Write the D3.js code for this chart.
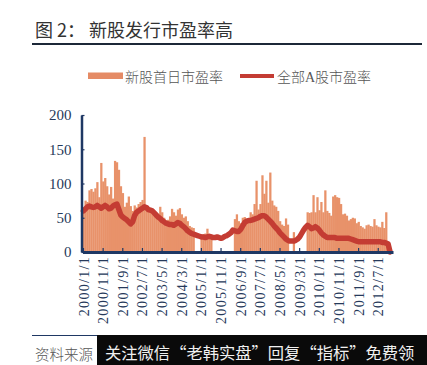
<!DOCTYPE html>
<html>
<head>
<meta charset="utf-8">
<script src="https://cdn.jsdelivr.net/npm/d3@7"></script>
<style>
  html, body { margin: 0; padding: 0; background: #fff; }
  svg { display: block; }
</style>
</head>
<body>
<svg id="chart" width="427" height="365"></svg>
<script>
// ---------- data ----------
const titleLead = "图 2：";
const titleText = "新股发行市盈率高";
const seriesNames = ["新股首日市盈率", "全部A股市盈率"];
const tickLabels = ["2000/1/1","2000/11/1","2001/9/1","2002/7/1","2003/5/1","2004/3/1","2005/1/1","2005/11/1","2006/9/1","2007/7/1","2008/5/1","2009/3/1","2010/1/1","2010/11/1","2011/9/1","2012/7/1"];
const yTicks = [0, 50, 100, 150, 200];

// monthly categories 2000/1 .. 2013/2
const months = [];
for (let yr = 2000; yr <= 2013; yr++) {
  for (let m = 1; m <= 12; m++) {
    if (yr === 2013 && m > 2) break;
    months.push(yr + "/" + m + "/1");
  }
}

// 新股首日市盈率 (monthly, null = no IPO)
const ipoPE = [
  58,75,73,90,92,88,93,102,80,130,
  103,108,96,84,95,78,133,131,120,96,
  86,66,72,81,67,60,68,65,70,73,
  76,168,64,65,62,58,57,55,50,66,
  58,50,44,47,52,63,58,53,62,64,
  55,50,52,45,38,36,35,null,null,null,
  22,26,27,34,26,24,null,null,null,null,
  null,null,null,null,null,null,null,48,55,45,
  42,50,51,44,47,58,55,70,104,62,
  70,112,85,104,72,116,75,68,66,60,
  45,40,38,49,40,null,null,29,null,null,
  null,null,null,null,58,57,58,83,58,80,
  61,73,58,90,60,57,53,81,83,80,
  79,70,55,56,53,46,48,50,49,42,
  44,38,36,34,39,40,38,37,48,39,
  37,36,44,35,58,null,null,null
];

// 全部A股市盈率 (monthly)
const marketPE = [
  60,63,66,67,66,65,66,68,66,64,
  66,68,66,63,64,67,69,70,62,54,
  51,49,47,44,41,44,53,58,60,62,
  64,66,65,62,61,60,57,54,51,49,
  46,44,42,41,40,40,39,41,43,42,
  39,37,34,31,29,27,26,25,24,23,
  22,22,21,22,23,22,21,21,22,21,
  20,21,23,24,26,28,32,31,30,30,
  33,38,43,45,46,46,47,48,49,50,
  52,53,53,51,48,45,42,38,35,32,
  28,25,22,19,17,16,16,16,17,19,
  22,27,32,36,39,37,34,35,37,35,
  32,28,25,23,21,21,21,21,21,20,
  20,20,20,20,20,20,19,18,17,16,
  15,15,15,15,15,15,15,15,15,15,
  15,15,14,14,13,12,0,null
];

// ---------- drawing ----------
const svg = d3.select("#chart");
const barColor = "#e8926a";
const lineColor = "#c43c33";
const axisColor = "#1f3864";
const labelColor = "#26395a";

// title
const title = svg.append("text")
  .attr("x", 35).attr("y", 37)
  .attr("font-family", "'Noto Sans CJK SC', sans-serif")
  .attr("font-size", 18)
  .attr("fill", "#333");
title.append("tspan").text(titleLead);
title.append("tspan").attr("dx", 4).text(titleText);
svg.append("line")
  .attr("x1", 32).attr("x2", 422).attr("y1", 44).attr("y2", 44)
  .attr("stroke", "#1c2838").attr("stroke-width", 2.2);

// legend
const lg = svg.append("g");
lg.append("rect").attr("x", 88).attr("y", 72.5).attr("width", 35).attr("height", 6.5).attr("fill", "#e58b65");
lg.append("text").attr("x", 125).attr("y", 82)
  .attr("font-family", "'Liberation Serif', 'Noto Sans CJK SC', serif")
  .attr("font-size", 14).attr("fill", "#555").attr("font-weight", 300)
  .text(seriesNames[0]);
lg.append("line").attr("x1", 240).attr("x2", 274).attr("y1", 76).attr("y2", 76)
  .attr("stroke", lineColor).attr("stroke-width", 4);
lg.append("text").attr("x", 277).attr("y", 82)
  .attr("font-family", "'Liberation Serif', 'Noto Sans CJK SC', serif")
  .attr("font-size", 14).attr("fill", "#555").attr("font-weight", 300)
  .text(seriesNames[1]);

// scales
const x = d3.scaleBand().domain(months).range([82.5, 393]).padding(0);
const y = d3.scaleLinear().domain([0, 200]).range([252, 115]);

// bars
svg.append("g").selectAll("rect")
  .data(months.map((m, i) => ({ m, v: ipoPE[i] })).filter(d => d.v != null))
  .join("rect")
  .attr("x", d => x(d.m))
  .attr("width", x.bandwidth() + 0.3)
  .attr("y", d => y(d.v))
  .attr("height", d => y(0) - y(d.v))
  .attr("fill", barColor);

// line
const lineGen = d3.line()
  .defined(d => d.v != null)
  .x(d => x(d.m) + x.bandwidth() / 2)
  .y(d => y(d.v))
  .curve(d3.curveLinear);
svg.append("path")
  .datum(months.map((m, i) => ({ m, v: marketPE[i] })))
  .attr("d", lineGen)
  .attr("fill", "none")
  .attr("stroke", lineColor)
  .attr("stroke-width", 5.5)
  .attr("stroke-linejoin", "round")
  .attr("stroke-linecap", "round");

// y axis
const yAxis = svg.append("g")
  .attr("transform", "translate(81.5,0)")
  .call(d3.axisLeft(y).tickValues(yTicks).tickSize(-3).tickSizeOuter(0).tickPadding(10));
yAxis.select(".domain").attr("stroke", axisColor).attr("stroke-width", 2.5);
yAxis.selectAll(".tick line").attr("stroke", axisColor).attr("stroke-width", 1.2);
yAxis.selectAll(".tick text")
  .attr("font-family", "'Liberation Serif', serif")
  .attr("font-size", 15)
  .attr("fill", labelColor);

// x axis
const xAxis = svg.append("g")
  .attr("transform", "translate(0,252)")
  .call(d3.axisBottom(x).tickValues(tickLabels).tickSize(-4).tickSizeOuter(0));
xAxis.select(".domain").attr("stroke", axisColor).attr("stroke-width", 3);
xAxis.selectAll(".tick line").attr("stroke", axisColor).attr("stroke-width", 1.2);
xAxis.selectAll(".tick text")
  .attr("transform", "rotate(-90)")
  .attr("text-anchor", "end")
  .attr("x", -4)
  .attr("y", 0)
  .attr("dy", "0.36em")
  .attr("font-family", "'Liberation Serif', serif")
  .attr("font-size", 14)
  .attr("letter-spacing", "1.3px")
  .attr("fill", labelColor);

// source line & text
svg.append("line").attr("x1", 32).attr("x2", 100).attr("y1", 335.5).attr("y2", 335.5)
  .attr("stroke", axisColor).attr("stroke-width", 1);
svg.append("text").attr("x", 35).attr("y", 360)
  .attr("font-family", "'Noto Sans CJK SC', sans-serif")
  .attr("font-size", 14.5).attr("fill", "#555").attr("font-weight", 300)
  .text("资料来源");

// overlay banner
svg.append("rect").attr("x", 97).attr("y", 335).attr("width", 330).attr("height", 30).attr("fill", "#0a0a0a");
svg.append("text").attr("x", 105).attr("y", 359)
  .attr("font-family", "'Noto Sans CJK SC', sans-serif")
  .attr("font-size", 16.3).attr("fill", "#f0f0f0")
  .text("关注微信“老韩实盘”回复“指标”免费领");
</script>
</body>
</html>
